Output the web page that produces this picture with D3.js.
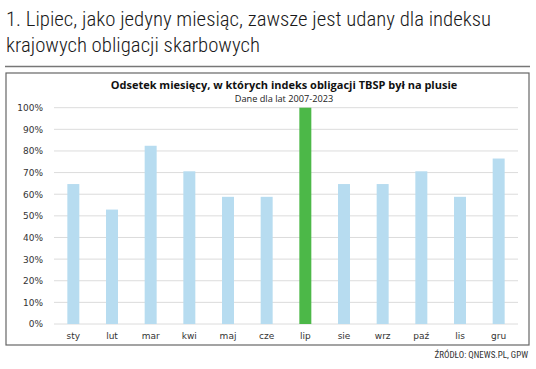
<!DOCTYPE html>
<html><head><meta charset="utf-8">
<script src="https://cdn.jsdelivr.net/npm/d3@7"></script>
<style>body{margin:0;background:#fff}svg{display:block}</style>
</head><body>
<script>
const months = ["sty","lut","mar","kwi","maj","cze","lip","sie","wrz","paź","lis","gru"];
const values = [64.7, 52.9, 82.4, 70.6, 58.8, 58.8, 100, 64.7, 64.7, 70.6, 58.8, 76.5];
const highlight = ["lip"];
const yTicks = [0,10,20,30,40,50,60,70,80,90,100];
const titleLines = ["1. Lipiec, jako jedyny miesiąc, zawsze jest udany dla indeksu","krajowych obligacji skarbowych"];
const chartTitle = "Odsetek miesięcy, w których indeks obligacji TBSP był na plusie";
const chartSubtitle = "Dane dla lat 2007-2023";
const source = "ŹRÓDŁO: QNEWS.PL, GPW";

const W=536,H=369;
const svg=d3.select("body").append("svg").attr("width",W).attr("height",H);
const cond = "'Liberation Sans Narrow','Roboto Condensed','Roboto',sans-serif";

svg.selectAll("text.ttl").data(titleLines).enter().append("text")
  .attr("x",6).attr("y",(d,i)=>26+i*26)
  .attr("font-family",cond).attr("font-size",20.8).attr("font-weight",300).attr("fill","#1a1a1a")
  .text(d=>d);
svg.append("line").attr("x1",5).attr("x2",530).attr("y1",66.5).attr("y2",66.5).attr("stroke","#777").attr("stroke-width",1.5);
svg.append("rect").attr("x",6).attr("y",73).attr("width",523).attr("height",272)
  .attr("fill","#fff").attr("stroke","#666").attr("stroke-width",1.2);

svg.append("text").attr("x",284).attr("y",89).attr("text-anchor","middle")
  .attr("font-family","'Open Sans',sans-serif").attr("font-weight","bold").attr("font-size",11).attr("fill","#111").text(chartTitle);
svg.append("text").attr("x",284).attr("y",101.5).attr("text-anchor","middle")
  .attr("font-family","'Open Sans',sans-serif").attr("font-size",9.2).attr("fill","#222").text(chartSubtitle);

const x=d3.scaleBand().domain(months).range([54,518]).paddingInner(0.69).paddingOuter(0.345);
const y=d3.scaleLinear().domain([0,100]).range([324,107.7]);

const g=svg.append("g");
g.selectAll("line.grid").data(yTicks).enter().append("line")
  .attr("x1",54).attr("x2",518).attr("y1",d=>y(d)).attr("y2",d=>y(d))
  .attr("stroke","#dcdcdc").attr("stroke-width",1);

const yAxis=g.append("g").attr("transform","translate(54,0)")
  .call(d3.axisLeft(y).tickValues(yTicks).tickFormat(d=>d+"%").tickSize(0).tickPadding(11));
yAxis.select(".domain").remove();
yAxis.selectAll("text").attr("font-family","'DejaVu Sans',sans-serif").attr("font-size",9).attr("fill","#333");

g.selectAll("rect.bar").data(values).enter().append("rect")
  .attr("x",(d,i)=>x(months[i])).attr("width",x.bandwidth())
  .attr("y",d=>y(d)).attr("height",d=>y(0)-y(d))
  .attr("fill",(d,i)=>highlight.includes(months[i])?"#4cb848":"#b7dcf0");

const xAxis=g.append("g").attr("transform","translate(0,324)")
  .call(d3.axisBottom(x).tickSize(0).tickPadding(9));
xAxis.select(".domain").remove();
xAxis.selectAll("text").attr("font-family","'DejaVu Sans',sans-serif").attr("font-size",9).attr("fill","#333");

svg.append("text").attr("x",528).attr("y",358).attr("text-anchor","end")
  .attr("font-family",cond).attr("font-size",9).attr("fill","#333").text(source);
</script>
</body></html>
